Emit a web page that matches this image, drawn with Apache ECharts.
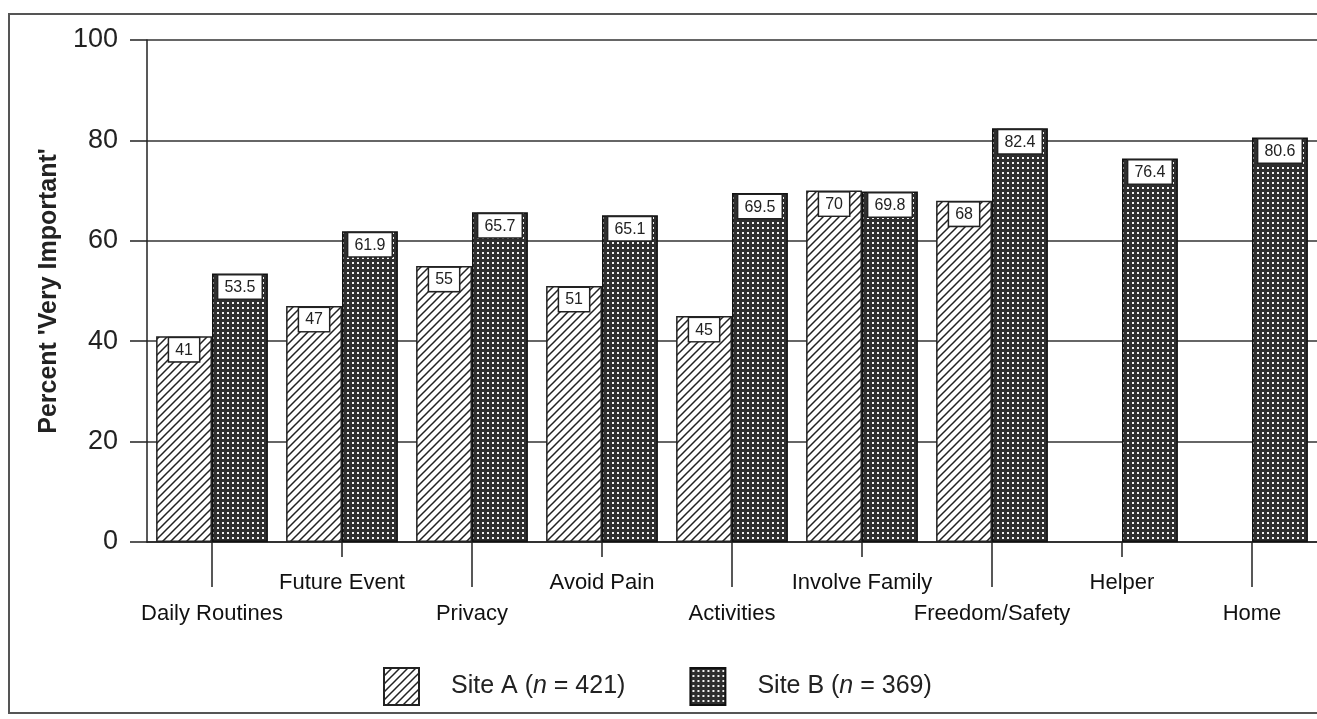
<!DOCTYPE html>
<html>
<head>
<meta charset="utf-8">
<style>
  html, body { margin: 0; padding: 0; background: #fff; }
  #chart { width: 1317px; height: 719px; }
</style>
<script src="https://cdn.jsdelivr.net/npm/echarts/dist/echarts.min.js"></script>
</head>
<body>
<div id="chart"></div>
<script>
// data
const categories = ['Daily Routines', 'Future Event', 'Privacy', 'Avoid Pain', 'Activities',
  'Involve Family', 'Freedom/Safety', 'Helper', 'Home'];
const siteA = [41, 47, 55, 51, 45, 70, 68, null, null];
const siteB = [53.5, 61.9, 65.7, 65.1, 69.5, 69.8, 82.4, 76.4, 80.6];
const yTicks = [0, 20, 40, 60, 80, 100];
const seriesNames = ['Site A', 'Site B'];
const sampleSizes = [421, 369];

const FONT = 'Liberation Sans, Arial, sans-serif';

// diagonal hatch for site A
function hatchPattern() {
  const c = document.createElement('canvas');
  c.width = 8; c.height = 8;
  const g = c.getContext('2d');
  g.fillStyle = '#fff';
  g.fillRect(0, 0, 8, 8);
  g.strokeStyle = '#222';
  g.lineWidth = 1.5;
  g.beginPath();
  g.moveTo(-1, 9); g.lineTo(9, -1);
  g.moveTo(-5, 5); g.lineTo(5, -5);
  g.moveTo(3, 13); g.lineTo(13, 3);
  g.stroke();
  return c;
}

// dark cross-hatch for site B
function gridPattern() {
  const c = document.createElement('canvas');
  c.width = 5; c.height = 5;
  const g = c.getContext('2d');
  g.fillStyle = '#2e2e2e';
  g.fillRect(0, 0, 5, 5);
  g.fillStyle = '#f2f2f2';
  g.fillRect(2, 2, 2, 2);
  return c;
}

const chart = echarts.init(document.getElementById('chart'));

const labelStyle = {
  show: true,
  position: 'insideTop',
  distance: 2,
  backgroundColor: '#fff',
  borderColor: '#222',
  borderWidth: 1.5,
  padding: [4, 6, 3, 6],
  fontSize: 16,
  fontFamily: FONT,
  color: '#222'
};

const tickStyle = { color: '#222', width: 1.5 };

chart.setOption({
  animation: false,
  textStyle: { fontFamily: FONT },
  graphic: [{
    type: 'rect',
    shape: { x: 9, y: 14, width: 1330, height: 699 },
    style: { fill: 'none', stroke: '#555', lineWidth: 2 },
    z: 0
  }],
  grid: {
    left: 147,
    top: 40,
    bottom: 177,
    right: -13
  },
  legend: {
    left: 378,
    top: 662,
    icon: 'rect',
    itemWidth: 35,
    itemHeight: 37,
    itemGap: 64,
    data: seriesNames,
    formatter: function (name) {
      const i = seriesNames.indexOf(name);
      return '{t|' + name + ' (}{n|n}{t| = ' + sampleSizes[i] + ')}';
    },
    textStyle: {
      padding: [0, 0, 0, 27],
      rich: {
        t: { fontSize: 25, color: '#222', fontFamily: FONT },
        n: { fontSize: 25, color: '#222', fontStyle: 'italic', fontFamily: FONT }
      }
    }
  },
  xAxis: [{
    type: 'category',
    data: categories,
    axisLine: { show: true, lineStyle: tickStyle },
    axisTick: {
      show: true, alignWithLabel: true, length: 15, lineStyle: tickStyle,
      interval: function (i) { return i % 2 === 1; }
    },
    axisLabel: {
      interval: 0,
      margin: 25,
      fontSize: 22,
      color: '#111',
      lineHeight: 31,
      formatter: function (v, i) { return i % 2 === 0 ? '\n' + v : v; }
    }
  }, {
    type: 'category',
    data: categories,
    position: 'bottom',
    axisLine: { show: false },
    axisLabel: { show: false },
    axisTick: {
      show: true, alignWithLabel: true, length: 45, lineStyle: tickStyle,
      interval: function (i) { return i % 2 === 0; }
    }
  }],
  yAxis: {
    type: 'value',
    min: 0,
    max: 100,
    interval: 20,
    name: "Percent 'Very Important'",
    nameLocation: 'middle',
    nameGap: 85,
    nameTextStyle: { fontSize: 25, fontWeight: 'bold', color: '#222' },
    axisLine: { show: true, lineStyle: tickStyle },
    axisTick: { show: true, inside: false, length: 17, lineStyle: tickStyle },
    axisLabel: {
      margin: 29,
      fontSize: 27,
      color: '#222',
      customValues: yTicks
    },
    splitLine: { show: true, lineStyle: { color: '#333', width: 1.5 } }
  },
  series: [{
    name: seriesNames[0],
    type: 'bar',
    data: siteA,
    barGap: '0%',
    barCategoryGap: '14%',
    itemStyle: { color: { image: hatchPattern(), repeat: 'repeat' }, borderColor: '#222', borderWidth: 1.5 },
    label: labelStyle
  }, {
    name: seriesNames[1],
    type: 'bar',
    data: siteB,
    itemStyle: { color: { image: gridPattern(), repeat: 'repeat' }, borderColor: '#111', borderWidth: 1.5 },
    label: labelStyle
  }]
});
</script>
</body>
</html>
